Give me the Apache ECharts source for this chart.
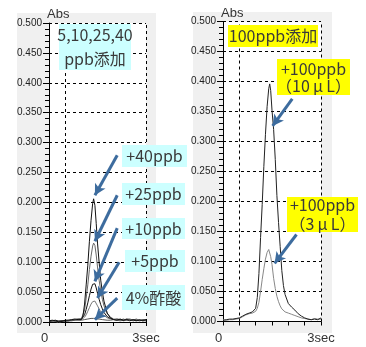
<!DOCTYPE html>
<html><head><meta charset="utf-8">
<script src="https://cdn.jsdelivr.net/npm/echarts@6/dist/echarts.min.js"></script>
<style>html,body{margin:0;padding:0;background:#fff}#c{width:366px;height:347px}</style>
</head><body><div id="c"></div>
<script>
// ---- data: left chart (sec, Abs) ----
const tL = [0,0.1,0.2,0.3,0.4,0.5,0.6,0.7,0.8,0.9,1.0,1.05,1.1,1.15,1.2,1.25,1.3,1.35,1.38,1.42,1.46,1.5,1.55,1.6,1.65,1.7,1.8,1.9,2.0,2.1,2.2,2.3,2.4,2.5,2.6,2.7,2.8,2.9,3.0];
const ppb40 = [0.002,0.003,0.002,0.000,0.001,0.003,0.003,0.004,0.005,0.004,0.004,0.010,0.030,0.062,0.095,0.135,0.170,0.198,0.206,0.195,0.165,0.132,0.100,0.070,0.050,0.035,0.015,0.007,0.004,0.003,0.005,0.003,0.004,0.002,0.004,0.003,0.002,0.003,0.004];
const ppb25 = [0.003,0.002,0.001,-0.002,0.001,0.002,0.003,0.003,0.004,0.004,0.005,0.008,0.020,0.040,0.062,0.088,0.110,0.127,0.132,0.128,0.112,0.092,0.070,0.052,0.038,0.027,0.014,0.008,0.005,0.004,0.003,0.005,0.003,0.004,0.003,0.005,0.003,0.004,0.003];
const ppb10 = [0.001,0.002,0.003,0.001,0.002,0.002,0.002,0.003,0.004,0.005,0.005,0.007,0.012,0.021,0.032,0.044,0.055,0.063,0.066,0.064,0.057,0.048,0.038,0.029,0.022,0.016,0.009,0.006,0.004,0.005,0.004,0.003,0.005,0.004,0.002,0.003,0.004,0.002,0.003];
const ppb5 = [0.002,0.001,0.002,0.002,0.001,0.003,0.002,0.003,0.003,0.004,0.004,0.005,0.008,0.012,0.018,0.024,0.030,0.034,0.036,0.035,0.032,0.027,0.022,0.017,0.013,0.010,0.007,0.005,0.004,0.003,0.004,0.002,0.003,0.004,0.003,0.002,0.003,0.002,0.002];
const acetic = [0.001,0.002,0.001,0.002,0.002,0.001,0.002,0.002,0.003,0.003,0.003,0.003,0.004,0.004,0.005,0.005,0.006,0.006,0.006,0.006,0.005,0.005,0.005,0.004,0.004,0.004,0.003,0.003,0.004,0.003,0.002,0.003,0.004,0.005,0.003,0.002,0.003,0.003,0.002];
// ---- data: right chart ----
const tR = [0,0.1,0.2,0.3,0.4,0.5,0.6,0.7,0.8,0.9,0.95,1.0,1.05,1.1,1.15,1.2,1.25,1.3,1.35,1.4,1.43,1.46,1.5,1.55,1.6,1.65,1.7,1.75,1.8,1.85,1.9,2.0,2.1,2.2,2.3,2.4,2.5,2.6,2.7,2.8,2.9,3.0];
const ul10 = [0.002,0.003,0.004,0.004,0.005,0.006,0.009,0.012,0.014,0.016,0.018,0.022,0.040,0.080,0.140,0.195,0.258,0.312,0.358,0.388,0.396,0.385,0.352,0.320,0.270,0.210,0.165,0.125,0.085,0.060,0.045,0.030,0.024,0.019,0.013,0.009,0.006,0.004,0.003,0.004,0.003,0.006];
const ul3 = [0.003,0.002,0.003,0.003,0.004,0.005,0.008,0.011,0.013,0.014,0.015,0.017,0.022,0.032,0.050,0.070,0.088,0.104,0.115,0.120,0.118,0.108,0.095,0.072,0.055,0.042,0.033,0.026,0.021,0.018,0.016,0.014,0.012,0.010,0.008,0.006,0.005,0.004,0.003,0.005,0.004,0.004];
// ---- axis ticks / labels ----
const yTicks = {min:0, max:0.5, step:0.05};
const xTicks = {min:0, max:3, step:0.5};
const xEndLabel = '3sec';
const yName = 'Abs';
// ---- annotations ----
const leftTitle = '5,10,25,40\nppb添加';
const leftNotes = ['+40ppb','+25ppb','+10ppb','+5ppb','4%酢酸'];
const leftArrows = [ // [startSec, startAbs, tipSec, tipAbs]
  [2.11,0.279,1.42,0.212],
  [2.11,0.212,1.42,0.135],
  [2.11,0.157,1.42,0.068],
  [2.17,0.100,1.50,0.040],
  [2.11,0.040,1.42,0.004]
];
const rightTitle = '100ppb添加';
const rightNotes = ['+100ppb\n（10\u2009μ\u2009L）','+100ppb\n（3\u2009μ\u2009L）'];
const rightArrows = [
  [2.12,0.371,1.52,0.326],
  [2.25,0.145,1.58,0.097]
];

const chart = echarts.init(document.getElementById('c'));
const pair = (t, v) => t.map((x,i)=>[x, v[i]]);
const ARROW = '#3d6c9e';
function arrowData(arr){ return arr.map(a=>[{coord:[a[0],a[1]]},{coord:[a[2],a[3]]}]); }

function xAxis(gi){
  return {type:'value', gridIndex:gi, min:xTicks.min, max:xTicks.max, interval:xTicks.step, offset:4,
    axisLine:{show:true, lineStyle:{color:'#000', width:1}},
    axisTick:{show:true, length:4, lineStyle:{color:'#000'}},
    splitLine:{show:false},
    axisLabel:{margin:6, fontSize:13, fontFamily:'Liberation Sans', color:'#333',
      formatter:v=> v===xTicks.min ? '{a|0}' : (v===xTicks.max ? xEndLabel : ''),
      rich:{a:{fontSize:13, fontFamily:'Liberation Sans', color:'#333', padding:[0,9,0,0]}}}
  };
}
function yAxis(gi){
  return {type:'value', gridIndex:gi, min:yTicks.min, max:yTicks.max, interval:yTicks.step,
    name:yName, nameLocation:'end', nameGap:2,
    nameTextStyle:{align:'left', verticalAlign:'bottom', fontSize:13, fontFamily:'Liberation Sans', color:'#333', padding:[0,0,0,-2]},
    axisLine:{show:true, lineStyle:{color:'#000', width:1}},
    axisTick:{show:true, length:6, lineStyle:{color:'#000'}},
    minorTick:{show:true, splitNumber:5, length:4, lineStyle:{color:'#000'}},
    splitLine:{show:true, lineStyle:{color:'#000', width:1, type:[3,3]}},
    axisLabel:{margin:7, fontSize:10, fontFamily:'Liberation Sans', color:'#222', formatter:v=>v.toFixed(3)}
  };
}
const vLines = {silent:true, symbol:['none','none'], label:{show:false},
  lineStyle:{color:'#000', width:1, type:[3,3]}, data:[{xAxis:0.5},{xAxis:3}]};
function arrows(arr){
  return {silent:true, symbol:['none','arrow'], symbolSize:[9,11], label:{show:false},
    lineStyle:{color:ARROW, width:3, type:'solid'}, emphasis:{disabled:true}, data:arrowData(arr)};
}
function line(gi, t, v, color, extra){
  return Object.assign({type:'line', xAxisIndex:gi, yAxisIndex:gi, data:pair(t,v), showSymbol:false, symbol:'none',
    lineStyle:{width:1, color:color}, animation:false, z:3}, extra||{});
}
function box(x,y,w,h,fill,text,lh){
  return {type:'group', z:100, children:[
    {type:'rect', z:100, shape:{x:x,y:y,width:w,height:h}, style:{fill:fill}},
    {type:'text', z:101, x:x+w/2, y:y+h/2, style:{text:text, fill:'#3a3a3a', font:'16px "Noto Sans CJK JP"', align:'center', verticalAlign:'middle', lineHeight:lh||18}}
  ]};
}
const CY = '#ccffff', YE = '#ffff00';
chart.setOption({
  animation:false,
  backgroundColor:'#fff',
  grid:[
    {left:49, top:23, width:97, height:299, show:true, backgroundColor:'#fff', borderWidth:0},
    {left:223, top:21.5, width:98, height:300, show:true, backgroundColor:'#fff', borderWidth:0}
  ],
  xAxis:[xAxis(0), xAxis(1)],
  yAxis:[yAxis(0), yAxis(1)],
  graphic:[
    {type:'rect', z:-100, shape:{x:17,y:13,width:139,height:320}, style:{fill:'#f0f0f0'}},
    {type:'rect', z:-100, shape:{x:193,y:12,width:139,height:321}, style:{fill:'#f0f0f0'}},
    box(59,24,72,46,CY,leftTitle,24),
    box(122,145,65,22,CY,leftNotes[0]),
    box(122,183,63,22,CY,leftNotes[1]),
    box(122,218,63,21,CY,leftNotes[2]),
    box(125,250,60,22,CY,leftNotes[3]),
    box(122,285,63,25,CY,leftNotes[4]),
    box(228,25,90,22,YE,rightTitle),
    box(277,59,73,36,YE,rightNotes[0],17),
    box(287,197,71,35,YE,rightNotes[1],19)
  ],
  series:[
    line(0,tL,acetic,'#555',{markLine:vLines}),
    line(0,tL,ppb5,'#777'),
    line(0,tL,ppb10,'#111'),
    line(0,tL,ppb25,'#666'),
    line(0,tL,ppb40,'#111',{markLine:arrows(leftArrows)}),
    line(1,tR,ul3,'#888',{markLine:vLines}),
    line(1,tR,ul10,'#222',{markLine:arrows(rightArrows)})
  ]
});
</script></body></html>
